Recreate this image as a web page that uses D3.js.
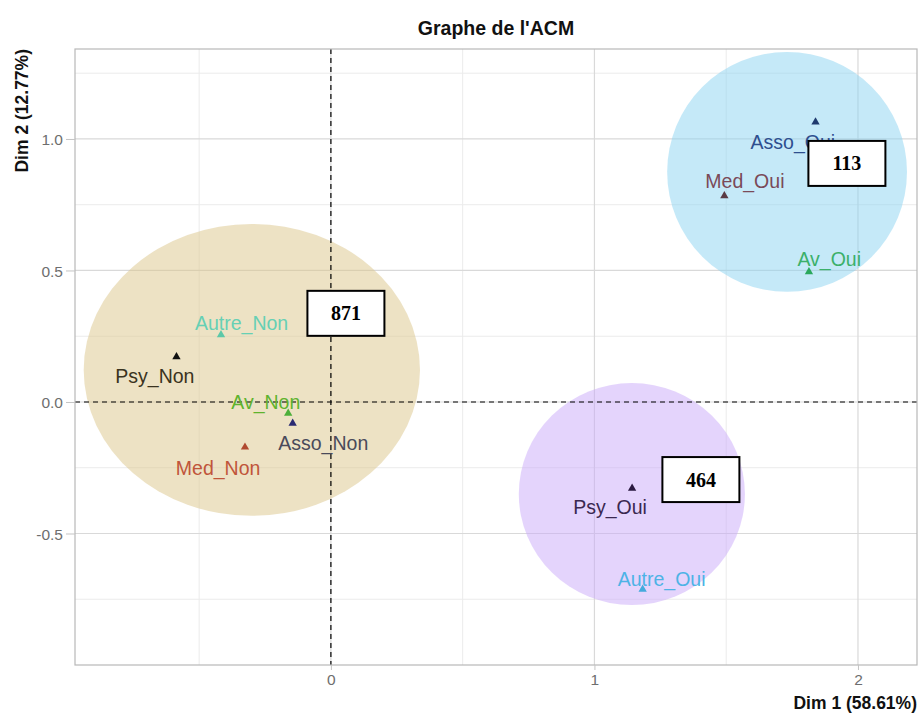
<!DOCTYPE html>
<html>
<head>
<meta charset="utf-8">
<script src="https://cdn.jsdelivr.net/npm/d3@7"></script>
<style>
  body { margin: 0; background: #fff; }
  svg text { font-family: "Liberation Sans", Arial, sans-serif; }
</style>
</head>
<body>
<div id="chart"></div>
<script>
// modalities (coordinates on Dim 1 / Dim 2)
const categories = ['Asso_Oui', 'Med_Oui', 'Av_Oui', 'Autre_Non', 'Psy_Non', 'Av_Non', 'Asso_Non', 'Med_Non', 'Psy_Oui', 'Autre_Oui'];
const dim1 = [1.839, 1.493, 1.814, -0.417, -0.586, -0.162, -0.145, -0.326, 1.143, 1.183];
const dim2 = [1.064, 0.784, 0.495, 0.255, 0.172, -0.043, -0.081, -0.172, -0.328, -0.712];
// repelled label positions (same units)
const labelDim1 = [1.753, 1.571, 1.891, -0.339, -0.668, -0.247, -0.029, -0.428, 1.059, 1.255];
const labelDim2 = [0.990, 0.840, 0.543, 0.299, 0.099, 0.001, -0.155, -0.252, -0.399, -0.673];

// groups drawn on top of the map
const groupCounts = ['871', '464', '113'];
const groupDim1 = [-0.300, 1.142, 1.731];
const groupDim2 = [0.122, -0.350, 0.875];
const groupRadius1 = [0.638, 0.429, 0.455];
const groupRadius2 = [0.555, 0.422, 0.456];
const countDim1 = [0.057, 1.404, 1.958];
const countDim2 = [0.337, -0.295, 0.907];

const xTicks = [0, 1, 2];
const yTicks = [-0.5, 0, 0.5, 1.0];
const xMinor = [-0.5, 0.5, 1.5];
const yMinor = [-0.75, -0.25, 0.25, 0.75, 1.25];

const pointColors = ['#1f3a6e', '#5a3a44', '#2aa85c', '#5cc8a8', '#111', '#4caf3a', '#2a2a72', '#b04a30', '#2a1a40', '#44aadd'];
const labelColors = ['#2e4f8f', '#7a4a58', '#3bb06a', '#66d0b4', '#3a3320', '#5fb32e', '#4a4a5a', '#c0553a', '#3a2850', '#4db3e6'];
const groupColors = ['#dcc68a', '#c9a9f9', '#8bd3f1'];

const chart = {
  width: 919,
  height: 717,
  panel: { left: 75, right: 917, top: 49, bottom: 665 }
};

function generateScales(c) {
  return {
    x: d3.scaleLinear().domain([-0.971, 2.224]).range([c.panel.left, c.panel.right]),
    y: d3.scaleLinear().domain([-1.0, 1.342]).range([c.panel.bottom, c.panel.top])
  };
}

function drawGrid(svg, c, s) {
  const p = c.panel;
  const grid = svg.append('g').attr('class', 'grid');

  grid.selectAll('.minor-x').data(xMinor).enter().append('line')
    .attr('x1', (d) => s.x(d)).attr('x2', (d) => s.x(d))
    .attr('y1', p.top).attr('y2', p.bottom)
    .attr('stroke', '#ebebeb').attr('stroke-width', 1);

  grid.selectAll('.minor-y').data(yMinor).enter().append('line')
    .attr('y1', (d) => s.y(d)).attr('y2', (d) => s.y(d))
    .attr('x1', p.left).attr('x2', p.right)
    .attr('stroke', '#ebebeb').attr('stroke-width', 1);

  grid.selectAll('.major-x').data(xTicks).enter().append('line')
    .attr('x1', (d) => s.x(d)).attr('x2', (d) => s.x(d))
    .attr('y1', p.top).attr('y2', p.bottom)
    .attr('stroke', '#d9d9d9').attr('stroke-width', 1.2);

  grid.selectAll('.major-y').data(yTicks).enter().append('line')
    .attr('y1', (d) => s.y(d)).attr('y2', (d) => s.y(d))
    .attr('x1', p.left).attr('x2', p.right)
    .attr('stroke', '#d9d9d9').attr('stroke-width', 1.2);
}

function drawAxes(svg, c, s) {
  const p = c.panel;
  const fmt = d3.format('.1f');

  const xAxis = svg.append('g')
    .attr('transform', `translate(0, ${p.bottom})`)
    .call(d3.axisBottom(s.x).tickValues(xTicks).tickFormat(d3.format('d')).tickSize(5).tickPadding(4));

  const yAxis = svg.append('g')
    .attr('transform', `translate(${p.left}, 0)`)
    .call(d3.axisLeft(s.y).tickValues(yTicks)
      .tickFormat((d) => fmt(d).replace('\u2212', '-'))
      .tickSize(9).tickPadding(3));

  [xAxis, yAxis].forEach((a) => {
    a.select('.domain').remove();
    a.selectAll('line').attr('stroke', '#c4c4c4');
    a.selectAll('text')
      .attr('fill', '#6e6e6e')
      .style('font-size', '15.5px')
      .style('font-family', '"Liberation Sans", Arial, sans-serif');
  });
  yAxis.selectAll('text').attr('dy', '0.36em');

  svg.append('text')
    .attr('x', p.right)
    .attr('y', 709)
    .attr('text-anchor', 'end')
    .attr('font-weight', 'bold')
    .attr('font-size', 17.5)
    .attr('fill', '#111')
    .text('Dim 1 (58.61%)');

  svg.append('text')
    .attr('transform', `translate(28, ${p.top}) rotate(-90)`)
    .attr('text-anchor', 'end')
    .attr('font-weight', 'bold')
    .attr('font-size', 17.5)
    .attr('fill', '#111')
    .text('Dim 2 (12.77%)');

  svg.append('text')
    .attr('x', (p.left + p.right) / 2)
    .attr('y', 35)
    .attr('text-anchor', 'middle')
    .attr('font-weight', 'bold')
    .attr('font-size', 19.5)
    .attr('fill', '#111')
    .text("Graphe de l'ACM");
}

function drawGroups(svg, s) {
  const groups = groupCounts.map((n, i) => ({
    n, cx: groupDim1[i], cy: groupDim2[i], rx: groupRadius1[i], ry: groupRadius2[i], color: groupColors[i]
  }));

  svg.append('g').selectAll('ellipse')
    .data(groups)
    .enter()
      .append('ellipse')
      .attr('cx', (d) => s.x(d.cx))
      .attr('cy', (d) => s.y(d.cy))
      .attr('rx', (d) => s.x(d.rx) - s.x(0))
      .attr('ry', (d) => s.y(0) - s.y(d.ry))
      .attr('fill', (d) => d.color)
      .attr('fill-opacity', 0.5);
}

function drawOrigin(svg, c, s) {
  const p = c.panel;
  svg.append('line')
    .attr('x1', s.x(0)).attr('x2', s.x(0))
    .attr('y1', p.top).attr('y2', p.bottom)
    .attr('stroke', '#000').attr('stroke-width', 1.2)
    .attr('stroke-dasharray', '5,4');
  svg.append('line')
    .attr('y1', s.y(0)).attr('y2', s.y(0))
    .attr('x1', p.left).attr('x2', p.right)
    .attr('stroke', '#000').attr('stroke-width', 1.2)
    .attr('stroke-dasharray', '5,4');
}

function drawPoints(svg, s) {
  const points = categories.map((name, i) => ({
    name, x: dim1[i], y: dim2[i], lx: labelDim1[i], ly: labelDim2[i],
    color: pointColors[i], labelColor: labelColors[i]
  }));

  const triangle = d3.symbol().type(d3.symbolTriangle).size(30);

  svg.append('g').selectAll('path')
    .data(points)
    .enter()
      .append('path')
      .attr('d', triangle)
      .attr('transform', (d) => `translate(${s.x(d.x)}, ${s.y(d.y)})`)
      .attr('fill', (d) => d.color);

  svg.append('g').selectAll('text')
    .data(points)
    .enter()
      .append('text')
      .attr('x', (d) => s.x(d.lx))
      .attr('y', (d) => s.y(d.ly))
      .attr('text-anchor', 'middle')
      .attr('dominant-baseline', 'central')
      .attr('font-size', 19.5)
      .attr('fill', (d) => d.labelColor)
      .text((d) => d.name);
}

function drawCounts(svg, s) {
  const boxW = 77;
  const boxH = 45;
  const counts = groupCounts.map((n, i) => ({ n, x: countDim1[i], y: countDim2[i] }));

  const box = svg.append('g').selectAll('g')
    .data(counts)
    .enter()
      .append('g')
      .attr('transform', (d) => `translate(${s.x(d.x)}, ${s.y(d.y)})`);

  box.append('rect')
    .attr('x', -boxW / 2).attr('y', -boxH / 2)
    .attr('width', boxW).attr('height', boxH)
    .attr('fill', '#fff')
    .attr('stroke', '#000')
    .attr('stroke-width', 2);

  box.append('text')
    .attr('text-anchor', 'middle')
    .attr('dominant-baseline', 'central')
    .style('font-family', '"Liberation Serif", "Times New Roman", serif')
    .attr('font-weight', 'bold')
    .attr('font-size', 20)
    .attr('fill', '#000')
    .text((d) => d.n);
}

function render(c) {
  const svg = d3.select('#chart')
    .append('svg')
    .attr('width', c.width)
    .attr('height', c.height);

  const s = generateScales(c);
  drawGrid(svg, c, s);
  drawGroups(svg, s);
  drawOrigin(svg, c, s);

  svg.append('rect')
    .attr('x', c.panel.left).attr('y', c.panel.top)
    .attr('width', c.panel.right - c.panel.left)
    .attr('height', c.panel.bottom - c.panel.top)
    .attr('fill', 'none')
    .attr('stroke', '#b8b8b8')
    .attr('stroke-width', 1.2);

  drawAxes(svg, c, s);
  drawPoints(svg, s);
  drawCounts(svg, s);
}

render(chart);
</script>
</body>
</html>
